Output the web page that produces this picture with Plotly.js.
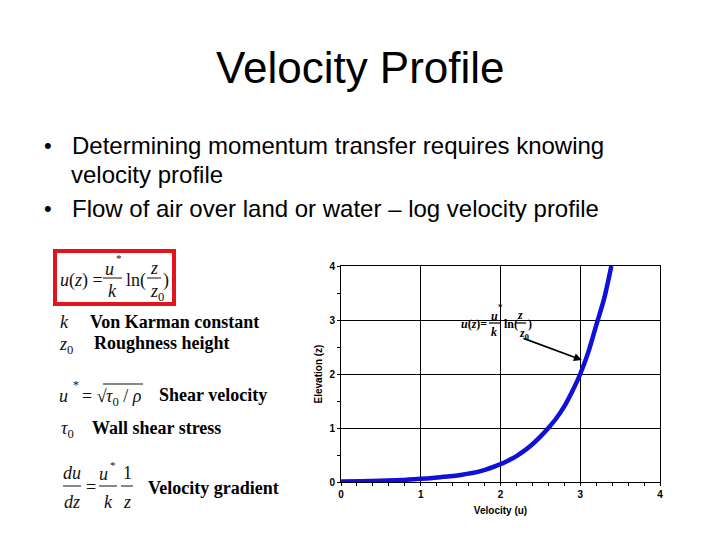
<!DOCTYPE html>
<html>
<head>
<meta charset="utf-8">
<script src="https://cdn.plot.ly/plotly-3.0.1.min.js"></script>
<style>html,body{margin:0;padding:0;background:#fff;}#chart{width:720px;height:540px;}</style>
</head>
<body>
<div id="chart"></div>
<script>
// ---- data ----
const velocityU = [0, 0.25, 0.5, 0.75, 1.0, 1.25, 1.5, 1.75, 2.0, 2.1, 2.2, 2.3, 2.4, 2.5, 2.6, 2.7, 2.8, 2.9, 3.0, 3.1, 3.2, 3.3, 3.39];
const elevationZ = [0.01, 0.015, 0.022, 0.035, 0.06, 0.09, 0.13, 0.2, 0.33, 0.4, 0.48, 0.58, 0.7, 0.84, 1.0, 1.18, 1.4, 1.68, 2.0, 2.4, 2.9, 3.4, 4.0];
const xTickVals = [0, 1, 2, 3, 4];
const yTickVals = [0, 1, 2, 3, 4];
const titleText = "Velocity Profile";
const bulletLines = ["Determining momentum transfer requires knowing", "velocity profile", "Flow of air over land or water \u2013 log velocity profile"];
const xTitle = "Velocity (u)";
const yTitle = "Elevation (z)";
const arrowHead = [3.02, 2.26];
const arrowTail = [2.27, 2.67];
const legendTerms = ["Von Karman constant", "Roughness height", "Shear velocity", "Wall shear stress", "Velocity gradient"];

// ---- layout helpers (pixel -> paper) ----
const L = 341, R = 660, T = 266, B = 482;
const px = x => (x - L) / (R - L);
const py = y => (B - y) / (B - T);
const SANS = "Liberation Sans, Arial, sans-serif";
const SERIF = "Liberation Serif, Times New Roman, serif";

const annotations = [];
const shapes = [];
function txt(x, y, text, size, family, opts) {
  annotations.push(Object.assign({
    xref: 'paper', yref: 'paper', x: px(x), y: py(y), text: text, showarrow: false,
    xanchor: 'left', yanchor: 'middle', font: {family: family, size: size, color: '#000'}
  }, opts || {}));
}
function hline(x0, x1, y, w, color) {
  shapes.push({type: 'line', xref: 'paper', yref: 'paper', x0: px(x0), x1: px(x1), y0: py(y), y1: py(y),
    line: {color: color || '#000', width: w || 1}});
}

// title and bullets
txt(360, 68, titleText, 44, SANS, {xanchor: 'center'});
txt(42, 145, "\u2022", 22, SANS);
txt(70, 145, bulletLines[0], 24, SANS);
txt(69, 174, bulletLines[1], 24, SANS);
txt(42, 208, "\u2022", 22, SANS);
txt(70, 208, bulletLines[2], 24, SANS);

// red box equation
shapes.push({type: 'rect', xref: 'paper', yref: 'paper', x0: px(55), x1: px(174), y0: py(251), y1: py(304),
  line: {color: '#e3141b', width: 4}});
const M = '#111';
const mf = s => ({family: SERIF, size: s, color: M});
txt(58, 280, "<i>u</i>(<i>z</i>) =", 18, SERIF, {font: mf(18)});
txt(109, 269, "<i>u</i>", 18, SERIF, {xanchor: 'center', font: mf(18)});
txt(119, 258, "*", 11, SERIF, {xanchor: 'center', font: mf(11)});
hline(103, 122, 278, 1, M);
txt(112, 291, "<i>k</i>", 18, SERIF, {xanchor: 'center', font: mf(18)});
txt(124, 280, "ln(", 18, SERIF, {font: mf(18)});
txt(154, 268, "<i>z</i>", 18, SERIF, {xanchor: 'center', font: mf(18)});
hline(147, 161, 278, 1, M);
txt(148, 292, "<i>z</i><sub>0</sub>", 18, SERIF, {font: mf(18)});
txt(161, 280, ")", 18, SERIF, {font: mf(18)});

// definitions
txt(58, 322, "<i>k</i>", 18, SERIF, {font: mf(18)});
txt(88, 322, "<b>" + legendTerms[0] + "</b>", 18, SERIF);
txt(57, 345, "<i>z</i><sub>0</sub>", 18, SERIF, {font: mf(18)});
txt(92, 343, "<b>" + legendTerms[1] + "</b>", 18, SERIF);

txt(57, 396, "<i>u</i>", 18, SERIF, {font: mf(18)});
txt(71, 385, "*", 12, SERIF, {font: mf(12)});
txt(80, 396, "= \u221A", 18, SERIF, {font: mf(18)});
hline(103, 143, 384, 1, M);
txt(104, 397, "<i>\u03C4</i><sub>0</sub> / <i>\u03C1</i>", 18, SERIF, {font: mf(18)});
txt(157, 395, "<b>" + legendTerms[2] + "</b>", 18, SERIF);

txt(59, 429, "<i>\u03C4</i><sub>0</sub>", 18, SERIF, {font: mf(18)});
txt(90, 428, "<b>" + legendTerms[3] + "</b>", 18, SERIF);

txt(72, 473, "<i>du</i>", 18, SERIF, {xanchor: 'center', font: mf(18)});
hline(63, 81, 486, 1, M);
txt(72, 502, "<i>dz</i>", 18, SERIF, {xanchor: 'center', font: mf(18)});
txt(84, 487, "=", 18, SERIF, {font: mf(18)});
txt(103, 474, "<i>u</i>", 18, SERIF, {xanchor: 'center', font: mf(18)});
txt(113, 465, "*", 11, SERIF, {xanchor: 'center', font: mf(11)});
hline(99, 117, 486, 1, M);
txt(108, 502, "<i>k</i>", 18, SERIF, {xanchor: 'center', font: mf(18)});
txt(127, 473, "1", 18, SERIF, {xanchor: 'center', font: mf(18)});
hline(121, 133, 486, 1, M);
txt(127, 502, "<i>z</i>", 18, SERIF, {xanchor: 'center', font: mf(18)});
txt(146, 488, "<b>" + legendTerms[4] + "</b>", 18, SERIF);

// formula inside the chart
const F = 12;
txt(459, 324, "<b><i>u</i>(<i>z</i>)=</b>", F, SERIF);
txt(494, 316, "<b><i>u</i></b>", F, SERIF, {xanchor: 'center'});
txt(500, 307, "<b>*</b>", 9, SERIF, {xanchor: 'center'});
hline(489, 500, 323, 1.2);
txt(494, 332, "<b><i>k</i></b>", F, SERIF, {xanchor: 'center'});
txt(502, 324, "<b>ln(</b>", F, SERIF);
txt(520, 315, "<b><i>z</i></b>", F, SERIF, {xanchor: 'center'});
hline(515, 526, 323, 1.2);
txt(517, 334, "<b><i>z</i><sub>0</sub></b>", F, SERIF);
txt(526, 324, "<b>)</b>", F, SERIF);

annotations.push({xref: 'x', yref: 'y', axref: 'x', ayref: 'y', x: arrowHead[0], y: arrowHead[1],
  ax: arrowTail[0], ay: arrowTail[1], text: '', showarrow: true, arrowhead: 2, arrowsize: 1,
  arrowwidth: 1.6, arrowcolor: '#000'});

const trace = {
  x: velocityU, y: elevationZ, type: 'scatter', mode: 'lines',
  line: {color: '#1010d8', width: 4.5, shape: 'spline', smoothing: 0.8}, hoverinfo: 'skip'
};

const axisCommon = {
  showgrid: true, gridcolor: '#000', gridwidth: 1, zeroline: false,
  showline: true, linecolor: '#000', linewidth: 1, mirror: true,
  ticks: 'outside', ticklen: 3, tickcolor: '#000',
  tickfont: {family: SANS, size: 10, color: '#000', weight: 'bold'},
  fixedrange: true
};

const layout = {
  width: 720, height: 540,
  margin: {l: L, r: 720 - R, t: T, b: 540 - B, pad: 0},
  paper_bgcolor: '#fff', plot_bgcolor: '#fff',
  showlegend: false,
  xaxis: Object.assign({}, axisCommon, {
    range: [0, 4], tickvals: xTickVals, ticktext: xTickVals.map(String),
    minor: {dtick: 0.2, ticks: 'outside', ticklen: 3, tickcolor: '#000', showgrid: false},
    title: {text: '<b>' + xTitle + '</b>', font: {family: SANS, size: 10, color: '#000'}, standoff: 7}
  }),
  yaxis: Object.assign({}, axisCommon, {
    range: [0, 4], tickvals: yTickVals, ticktext: yTickVals.map(String),
    minor: {dtick: 0.5, ticks: 'outside', ticklen: 3, tickcolor: '#000', showgrid: false},
    title: {text: '<b>' + yTitle + '</b>', font: {family: SANS, size: 10, color: '#000'}, standoff: 4}
  }),
  annotations: annotations,
  shapes: shapes
};

Plotly.newPlot('chart', [trace], layout, {staticPlot: true, displayModeBar: false});
</script>
</body>
</html>
